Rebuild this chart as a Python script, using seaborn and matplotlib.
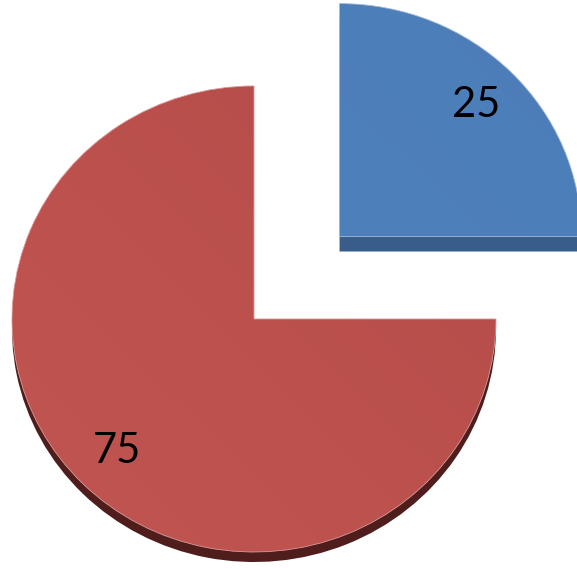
import numpy as np
import matplotlib
matplotlib.use("Agg")
import matplotlib.pyplot as plt
from matplotlib.patches import Wedge
from matplotlib.colors import to_rgb
import seaborn as sns

# Slice values and their labels
values = [25, 75]
slice_names = ["A", "B"]
top_light = ["#5084C0", "#C25551"]
top_dark = ["#4C7DB8", "#B34B48"]
side_colors = ["#385D8A", "#4E1D1C"]
edge_colors = ["#A3B9D9", "#D99A98"]
explode = [0.50, 0.0]
depths = [0.064, 0.043]

sns.set_theme(style="white")
plt.rcParams["font.family"] = ["Lato", "DejaVu Sans"]

fig = plt.figure(figsize=(5.77, 5.69), dpi=100)
ax = fig.add_axes([0, 0, 1, 1])

wedges, texts, autotexts = ax.pie(
    values,
    explode=explode,
    startangle=0,
    counterclock=True,
    colors=top_light,
    autopct=lambda p: f"{p:.0f}",
    pctdistance=0.8,
    textprops=dict(fontsize=30, color="black"),
    wedgeprops=dict(linewidth=0.6),
)

xlim = (-1.0496, 1.3347)
ylim = (-1.073, 1.369)

# Diagonal shading field used for the slice tops
gy, gx = np.mgrid[0:1:200j, 0:1:200j]
shade = ((gx + gy) / 2.0)[..., None]

for w, c0, c1, side, edge, d in zip(wedges, top_light, top_dark,
                                     side_colors, edge_colors, depths):
    w.set_edgecolor(edge)
    w.set_zorder(3)
    w.set_facecolor("none")
    cx, cy = w.center
    # side face, shifted downward under the top
    ax.add_patch(Wedge((cx, cy - d), w.r, w.theta1, w.theta2,
                       facecolor=side, edgecolor="none", zorder=1))
    # shaded top face
    img = np.array(to_rgb(c0)) * (1 - shade) + np.array(to_rgb(c1)) * shade
    im = ax.imshow(img, extent=(*xlim, ylim[1], ylim[0]), origin="upper",
                   interpolation="bilinear", zorder=2, aspect="auto")
    im.set_clip_path(w)

for t in autotexts:
    t.set_zorder(5)

ax.set_aspect("auto")
ax.set_xlim(*xlim)
ax.set_ylim(*ylim)
ax.axis("off")

fig.savefig("out.png", dpi=100, facecolor="white")
